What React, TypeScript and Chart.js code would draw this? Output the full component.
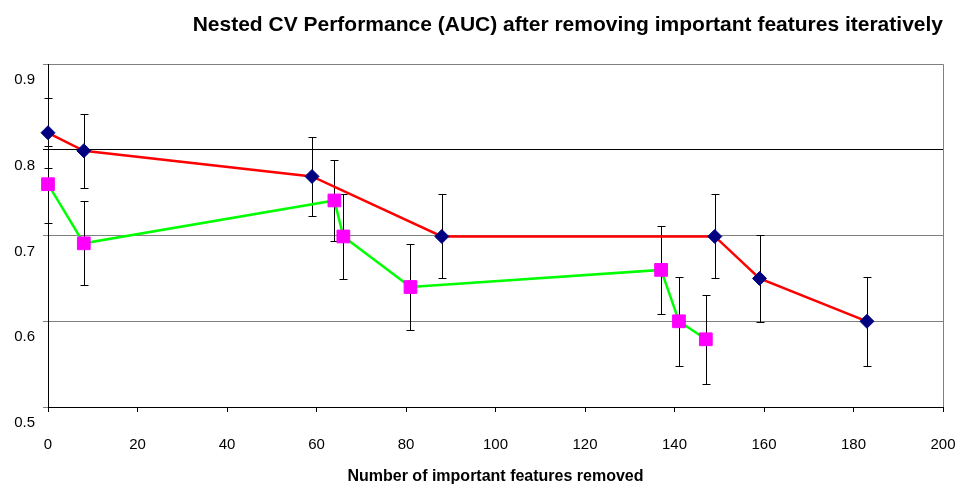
import React, { useEffect, useRef } from "react";
import { Chart, registerables } from "chart.js";

Chart.register(...registerables);

const titleText = "Nested CV Performance (AUC) after removing important features iteratively";
const xTitle = "Number of important features removed";

// Series A (red line, navy diamonds)
const aX = [0, 8, 59, 88, 149, 159, 183];
const aY = [0.820, 0.799, 0.769, 0.699, 0.699, 0.650, 0.600];
const aErr = [0.041, 0.043, 0.046, 0.049, 0.049, 0.051, 0.052];

// Series B (green line, magenta squares)
const bX = [0, 8, 64, 66, 81, 137, 141, 147];
const bY = [0.760, 0.691, 0.741, 0.699, 0.640, 0.660, 0.600, 0.579];
const bErr = [0.045, 0.049, 0.047, 0.050, 0.050, 0.051, 0.052, 0.052];

const errors = [aErr, bErr];

const FONT = "'Liberation Sans', Arial, sans-serif";

const errorBarPlugin = {
  id: "errorBars",
  beforeDatasetsDraw(chart: any) {
    const ctx = chart.ctx;
    const xs = chart.scales.x;
    const ys = chart.scales.y;
    ctx.save();
    ctx.strokeStyle = "#000";
    ctx.lineWidth = 1;
    chart.data.datasets.forEach((ds: any, i: number) => {
      const errs = errors[i];
      ds.data.forEach((p: any, j: number) => {
        const px = Math.round(xs.getPixelForValue(p.x)) + 0.5;
        const top = Math.round(ys.getPixelForValue(p.y + errs[j])) + 0.5;
        const bot = Math.round(ys.getPixelForValue(p.y - errs[j])) + 0.5;
        ctx.beginPath();
        ctx.moveTo(px, top);
        ctx.lineTo(px, bot);
        ctx.moveTo(px - 4, top);
        ctx.lineTo(px + 4, top);
        ctx.moveTo(px - 4, bot);
        ctx.lineTo(px + 4, bot);
        ctx.stroke();
      });
    });
    ctx.restore();
  },
};

const framePlugin = {
  id: "frame",
  beforeDatasetsDraw(chart: any) {
    const { ctx, chartArea } = chart;
    ctx.save();
    ctx.strokeStyle = "#808080";
    ctx.lineWidth = 1;
    ctx.beginPath();
    const x = Math.round(chartArea.right) + 0.5;
    ctx.moveTo(x, chartArea.top);
    ctx.lineTo(x, chartArea.bottom);
    ctx.stroke();
    ctx.restore();
  },
};

export default function App() {
  const ref = useRef<HTMLCanvasElement>(null);
  useEffect(() => {
    if (!ref.current) return;
    const chart = new Chart(ref.current, {
      type: "line",
      data: {
        datasets: [
          {
            label: "A",
            data: aX.map((x, i) => ({ x, y: aY[i] })),
            borderColor: "#FF0000",
            borderWidth: 2.5,
            backgroundColor: "#000080",
            pointBackgroundColor: "#000080",
            pointBorderColor: "#000080",
            pointBorderWidth: 1,
            pointStyle: "rectRot",
            pointRadius: 7,
            tension: 0,
            clip: false,
          },
          {
            label: "B",
            data: bX.map((x, i) => ({ x, y: bY[i] })),
            borderColor: "#00FF00",
            borderWidth: 2.5,
            backgroundColor: "#FF00FF",
            pointBackgroundColor: "#FF00FF",
            pointBorderColor: "#FF00FF",
            pointBorderWidth: 1,
            pointStyle: "rect",
            pointRadius: 9,
            tension: 0,
            clip: false,
          },
        ],
      },
      options: {
        animation: false,
        responsive: true,
        maintainAspectRatio: false,
        layout: { padding: { left: 0, right: 17, top: 0, bottom: 0 } },
        plugins: {
          legend: { display: false },
          tooltip: { enabled: false },
          title: {
            display: true,
            text: titleText,
            align: "end",
            color: "#000",
            font: { family: FONT, size: 21, weight: "bold" },
            padding: { top: 13, bottom: 26 },
          },
        },
        scales: {
          x: {
            type: "linear",
            min: 0,
            max: 200,
            ticks: {
              stepSize: 20,
              color: "#000",
              font: { family: FONT, size: 15 },
              padding: 24,
              maxRotation: 0,
            },
            grid: {
              drawOnChartArea: false,
              drawTicks: true,
              tickLength: 5,
              color: "#000",
            },
            border: { color: "#000", width: 1 },
            title: {
              display: true,
              text: xTitle,
              color: "#000",
              font: { family: FONT, size: 16, weight: "bold" },
              padding: { top: 0, bottom: -2 },
            },
            afterFit: (s: any) => {
              s.height = 77;
              s.paddingLeft = 0;
              s.paddingRight = 0;
            },
          },
          y: {
            type: "linear",
            min: 0.5,
            max: 0.9,
            ticks: {
              stepSize: 0.1,
              color: "#000",
              font: { family: FONT, size: 15 },
              padding: 8,
              labelOffset: 16,
            },
            grid: {
              color: (c: any) =>
                c.tick && Math.abs(c.tick.value - 0.8) < 1e-6 ? "#000" : "#808080",
              tickLength: 5,
              drawTicks: true,
            },
            border: { color: "#000", width: 1 },
            afterFit: (s: any) => {
              s.width = 48;
              s.paddingTop = 0;
              s.paddingBottom = 0;
            },
          },
        },
      },
      plugins: [errorBarPlugin, framePlugin],
    });
    return () => chart.destroy();
  }, []);
  return (
    <div style={{ position: "fixed", left: 0, top: 0, width: 960, height: 484, background: "#fff" }}>
      <canvas ref={ref} />
    </div>
  );
}
